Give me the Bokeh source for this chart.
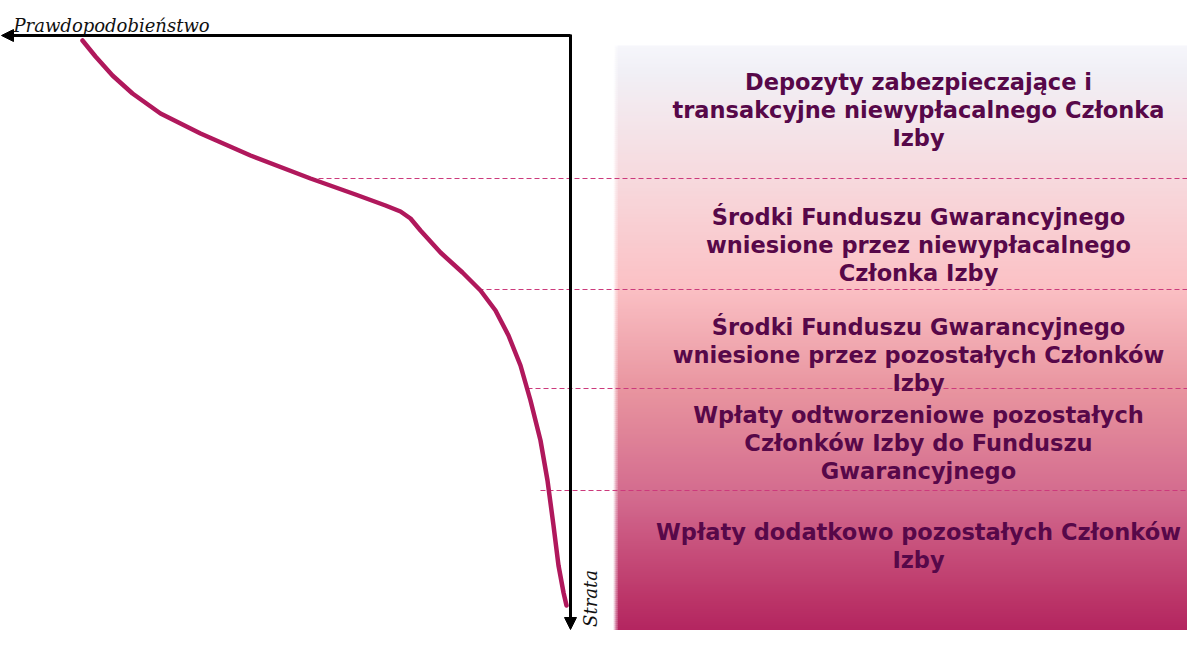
import numpy as np
from bokeh.plotting import figure
from bokeh.models import Range1d, Arrow, NormalHead
from bokeh.core.properties import value
from bokeh.embed import file_html
from bokeh.resources import INLINE

# ---- data (pixel-like units: x = probability axis, y = loss depth) ----
curve_x = [82, 95, 112, 132, 160, 200, 250, 310, 355, 385, 400, 410, 420, 440, 462, 480, 495, 508, 520, 530, 540, 547, 553, 558, 563, 566]
curve_y = [40, 56, 75, 93, 113, 133, 155, 178, 194, 205, 211, 218, 230, 252, 272, 290, 310, 335, 365, 400, 440, 480, 525, 565, 592, 605]

level_y = [178, 289, 388, 490]
level_x0 = [310, 478, 527, 540]

layer_labels = [
    ["Depozyty zabezpieczające i", "transakcyjne niewypłacalnego Członka", "Izby"],
    ["Środki Funduszu Gwarancyjnego", "wniesione przez niewypłacalnego", "Członka Izby"],
    ["Środki Funduszu Gwarancyjnego", "wniesione przez pozostałych Członków", "Izby"],
    ["Wpłaty odtworzeniowe pozostałych", "Członków Izby do Funduszu", "Gwarancyjnego"],
    ["Wpłaty dodatkowo pozostałych Członków", "Izby"],
]
label_top_y = [81, 216, 326, 414, 531]

x_axis_label = "Prawdopodobieństwo"
y_axis_label = "Strata"

# gradient stops for the layered panel
grad_y = [45, 70, 180, 285, 390, 500, 600, 643]
grad_col = ["#F6F6FB", "#F1F0F6", "#F7D9DD", "#FBC1C5", "#E8949F", "#D2698D", "#BB3468", "#B01F5D"]

# ---- figure ----
W, H = 1187, 630
p = figure(width=W, height=H, output_backend="svg", toolbar_location=None,
           x_range=Range1d(0, W), y_range=Range1d(H, 0),
           min_border=0, outline_line_color=None)
p.xaxis.visible = False
p.yaxis.visible = False
p.grid.visible = False
p.background_fill_color = "white"
p.border_fill_color = "white"


def hex2rgb(h):
    h = h.lstrip("#")
    return np.array([int(h[i:i + 2], 16) for i in (0, 2, 4)], dtype=float)


gy = np.array(grad_y, dtype=float)
gc = np.array([hex2rgb(c) for c in grad_col])
edges = np.arange(gy[0], gy[-1] + 1e-9, 2.0)
mids = (edges[:-1] + edges[1:]) / 2
cols = []
for m in mids:
    rgb = [np.interp(m, gy, gc[:, k]) for k in range(3)]
    cols.append("#%02x%02x%02x" % tuple(int(round(v)) for v in rgb))

panel_left, panel_right = 617, 1210
bottoms = np.minimum(edges[1:] + 0.8, gy[-1])
# soft left edge
for i, a in enumerate([0.12, 0.3, 0.55, 0.8]):
    p.quad(left=panel_left - 4 + i, right=panel_left - 3 + i, bottom=bottoms, top=edges[:-1],
           fill_color=cols, fill_alpha=a, line_color=None)
p.quad(left=panel_left, right=panel_right, bottom=bottoms, top=edges[:-1],
       fill_color=cols, line_color=None)

# dashed level lines
for yv, x0 in zip(level_y, level_x0):
    p.line([x0, 1210], [yv, yv], line_color="#CC3A7C", line_width=1.2, line_dash="5 3")

# axes with arrows
p.add_layout(Arrow(end=NormalHead(size=12, fill_color="black", line_color="black"),
                   x_start=570, y_start=35, x_end=1, y_end=35, line_width=3, line_color="black"))
p.add_layout(Arrow(end=NormalHead(size=12, fill_color="black", line_color="black"),
                   x_start=570, y_start=34, x_end=570, y_end=629, line_width=3, line_color="black"))

# loss curve
p.line(curve_x, curve_y, line_color="#B0185C", line_width=4.5, line_join="round", line_cap="round")

# axis titles
p.text(x=[13], y=[25], text=[x_axis_label], text_font=value("DejaVu Serif"),
       text_font_style="italic", text_font_size="18px", text_color="#111111",
       text_baseline="alphabetic", text_align="left")
p.text(x=[590], y=[598], text=[y_axis_label], text_font=value("DejaVu Serif"),
       text_font_style="italic", text_font_size="18px", text_color="#111111",
       text_baseline="middle", text_align="center", angle=np.pi / 2)

# layer labels
tx, ty, tt = [], [], []
for lines, y0 in zip(layer_labels, label_top_y):
    for j, s in enumerate(lines):
        tx.append(918)
        ty.append(y0 + 28 * j)
        tt.append(s)
p.text(x=tx, y=ty, text=tt, text_font=value("DejaVu Sans"), text_font_style="bold",
       text_font_size="22.5px", text_color="#570849", text_align="center", text_baseline="middle")

open("out.html", "w").write(file_html(p, INLINE))
